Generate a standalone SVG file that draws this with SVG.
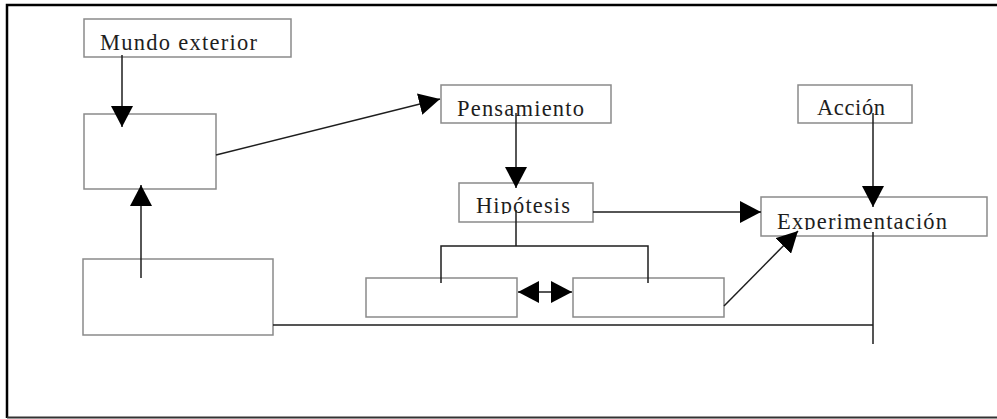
<svg xmlns="http://www.w3.org/2000/svg" width="997" height="419" viewBox="0 0 997 419">
  <style>
    .box { fill: #ffffff; stroke: #8a8a8a; stroke-width: 1.5; }
    .lbl { font-family: "Liberation Serif", "Times New Roman", serif; font-size: 22.5px; fill: #1e1e1e; }
    .wire { fill: none; stroke: #1e1e1e; stroke-width: 1.5; }
    .arrow { marker-end: url(#head); }
  </style>
  <defs>
    <marker id="head" markerUnits="userSpaceOnUse" markerWidth="22" markerHeight="22" viewBox="0 0 22 22" refX="21" refY="11" orient="auto-start-reverse">
      <path d="M0,0 L21,11 L0,22 z" fill="#000000"/>
    </marker>
    <!-- labels are cut just under their baselines -->
    <clipPath id="cMundo"><rect x="84" y="19" width="207" height="32"/></clipPath>
    <clipPath id="cPens"><rect x="441" y="85" width="170" height="32"/></clipPath>
    <clipPath id="cHip"><rect x="459" y="183" width="134" height="31"/></clipPath>
    <clipPath id="cAcc"><rect x="798" y="85" width="114" height="31"/></clipPath>
    <clipPath id="cExp"><rect x="761" y="197" width="226" height="33"/></clipPath>
  </defs>

  <rect width="997" height="419" fill="#ffffff"/>
  <!-- frame: left, top and bottom edges -->
  <path d="M7,418 V5 H997" fill="none" stroke="#000000" stroke-width="2.5"/>
  <path d="M7,417.5 H997" fill="none" stroke="#333333" stroke-width="2"/>

  <g id="mundo">
    <rect class="box" x="84" y="19" width="207" height="38"/>
    <text class="lbl" x="100" y="50" textLength="157" lengthAdjust="spacing" clip-path="url(#cMundo)">Mundo exterior</text>
  </g>
  <g id="caja1">
    <rect class="box" x="84" y="114" width="132" height="75"/>
  </g>
  <g id="caja2">
    <rect class="box" x="83" y="259" width="190" height="76"/>
  </g>
  <g id="pensamiento">
    <rect class="box" x="441" y="85" width="170" height="38"/>
    <text class="lbl" x="457" y="116" textLength="127" lengthAdjust="spacing" clip-path="url(#cPens)">Pensamiento</text>
  </g>
  <g id="hipotesis">
    <rect class="box" x="459" y="183" width="134" height="39"/>
    <text class="lbl" x="476" y="213" textLength="94" lengthAdjust="spacing" clip-path="url(#cHip)">Hipótesis</text>
  </g>
  <g id="accion">
    <rect class="box" x="798" y="85" width="114" height="38"/>
    <text class="lbl" x="817" y="115" textLength="68" lengthAdjust="spacing" clip-path="url(#cAcc)">Acción</text>
  </g>
  <g id="experimentacion">
    <rect class="box" x="761" y="197" width="226" height="39"/>
    <text class="lbl" x="777" y="229" textLength="170" lengthAdjust="spacing" clip-path="url(#cExp)">Experimentación</text>
  </g>
  <g id="caja3">
    <rect class="box" x="366" y="278" width="151" height="39"/>
  </g>
  <g id="caja4">
    <rect class="box" x="573" y="278" width="151" height="39"/>
  </g>

  <g id="connectors">
    <line class="wire arrow" x1="122" y1="55" x2="122" y2="127"/>
    <line class="wire arrow" x1="141" y1="278" x2="141" y2="185"/>
    <line class="wire arrow" x1="216" y1="155" x2="440" y2="99"/>
    <line class="wire arrow" x1="516" y1="113" x2="516" y2="188"/>
    <line class="wire arrow" x1="593" y1="212" x2="761" y2="212"/>
    <line class="wire arrow" x1="873" y1="113" x2="873" y2="207"/>
    <path class="wire" d="M516,210 V246 M441,283 V246 H648 V283"/>
    <line class="wire" x1="518" y1="292" x2="572" y2="292" marker-start="url(#head)" marker-end="url(#head)"/>
    <line class="wire arrow" x1="724" y1="306" x2="798" y2="231"/>
    <path class="wire" d="M273,325 H873 M873,232 V344"/>
  </g>
</svg>
